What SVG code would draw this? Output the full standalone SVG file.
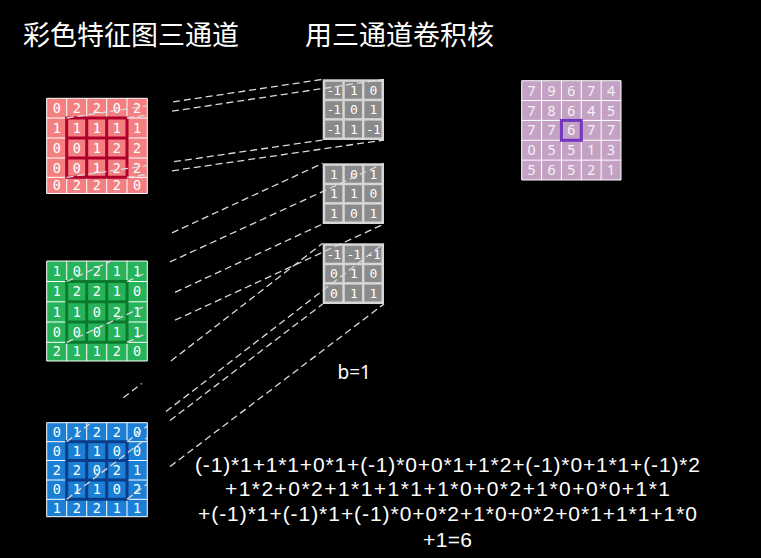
<svg xmlns="http://www.w3.org/2000/svg" width="761" height="558" viewBox="0 0 761 558">
<style>
.title{font-family:"Noto Sans CJK SC","Noto Sans",sans-serif;font-size:27px;fill:#ffffff}
.g{font-family:"DejaVu Sans Mono","Liberation Mono",monospace;font-size:13.5px;fill:#ffffff;text-anchor:middle}
.k{font-family:"DejaVu Sans Mono","Liberation Mono",monospace;font-size:13px;fill:#ffffff;text-anchor:middle;letter-spacing:-1px}
.o{font-family:"Noto Sans","Liberation Sans",sans-serif;font-size:14px;fill:#f4f4f4;text-anchor:middle}
.f{font-family:"Liberation Sans",Arial,sans-serif;font-size:21px;fill:#ffffff;text-anchor:middle}
.wl{fill:none;stroke:#ffffff;stroke-width:1}
.hl{fill:none;stroke-width:3}
.kb{fill:#d6d6d6}
.kc{fill:#8a8a8a}
.dash{fill:none;stroke:#dadada;stroke-width:1.3;stroke-dasharray:7 4}
</style>
<rect x="0" y="0" width="761" height="558" fill="#000000"/>

<g id="titles">
<text class="title" x="23" y="45">彩色特征图三通道</text>
<text class="title" x="305" y="45">用三通道卷积核</text>
</g>

<g id="red-channel">
<rect x="46.7" y="98.3" width="100.6" height="95.2" fill="#f47f80"/>
<path class="wl" d="M46.7,98.3V193.5M66.7,98.3V193.5M86.7,98.3V193.5M106.7,98.3V193.5M127,98.3V193.5M147.3,98.3V193.5M46.7,98.3H147.3M46.7,118H147.3M46.7,138H147.3M46.7,158H147.3M46.7,177.3H147.3M46.7,193.5H147.3"/>
<path class="hl" stroke="#b0002c" d="M66.7,118H127V177.3H66.7ZM86.7,118V177.3M106.7,118V177.3M66.7,138H127M66.7,158H127"/>
<g>
<text class="g" x="56.7" y="113">0</text><text class="g" x="76.7" y="113">2</text><text class="g" x="96.7" y="113">2</text><text class="g" x="116.85" y="113">0</text><text class="g" x="137.15" y="113">2</text>
<text class="g" x="56.7" y="132.8">1</text><text class="g" x="76.7" y="132.8">1</text><text class="g" x="96.7" y="132.8">1</text><text class="g" x="116.85" y="132.8">1</text><text class="g" x="137.15" y="132.8">1</text>
<text class="g" x="56.7" y="152.8">0</text><text class="g" x="76.7" y="152.8">0</text><text class="g" x="96.7" y="152.8">1</text><text class="g" x="116.85" y="152.8">2</text><text class="g" x="137.15" y="152.8">2</text>
<text class="g" x="56.7" y="172.5">0</text><text class="g" x="76.7" y="172.5">0</text><text class="g" x="96.7" y="172.5">1</text><text class="g" x="116.85" y="172.5">2</text><text class="g" x="137.15" y="172.5">2</text>
<text class="g" x="56.7" y="190.2">0</text><text class="g" x="76.7" y="190.2">2</text><text class="g" x="96.7" y="190.2">2</text><text class="g" x="116.85" y="190.2">2</text><text class="g" x="137.15" y="190.2">0</text>
</g>
</g>

<g id="green-channel">
<rect x="46.7" y="261" width="100.6" height="100" fill="#27b35a"/>
<path class="wl" d="M46.7,261V361M66.7,261V361M86.7,261V361M106.7,261V361M127,261V361M147.3,261V361M46.7,261H147.3M46.7,281.5H147.3M46.7,301.8H147.3M46.7,322H147.3M46.7,342.3H147.3M46.7,361H147.3"/>
<path class="hl" stroke="#0c7a2c" d="M66.7,281.5H127V342.3H66.7ZM86.7,281.5V342.3M106.7,281.5V342.3M66.7,301.8H127M66.7,322H127"/>
<g>
<text class="g" x="56.7" y="276">1</text><text class="g" x="76.7" y="276">0</text><text class="g" x="96.7" y="276">2</text><text class="g" x="116.85" y="276">1</text><text class="g" x="137.15" y="276">1</text>
<text class="g" x="56.7" y="296.4">1</text><text class="g" x="76.7" y="296.4">2</text><text class="g" x="96.7" y="296.4">2</text><text class="g" x="116.85" y="296.4">1</text><text class="g" x="137.15" y="296.4">0</text>
<text class="g" x="56.7" y="316.7">1</text><text class="g" x="76.7" y="316.7">1</text><text class="g" x="96.7" y="316.7">0</text><text class="g" x="116.85" y="316.7">2</text><text class="g" x="137.15" y="316.7">1</text>
<text class="g" x="56.7" y="336.9">0</text><text class="g" x="76.7" y="336.9">0</text><text class="g" x="96.7" y="336.9">0</text><text class="g" x="116.85" y="336.9">1</text><text class="g" x="137.15" y="336.9">1</text>
<text class="g" x="56.7" y="356.4">2</text><text class="g" x="76.7" y="356.4">1</text><text class="g" x="96.7" y="356.4">1</text><text class="g" x="116.85" y="356.4">2</text><text class="g" x="137.15" y="356.4">0</text>
</g>
</g>

<g id="blue-channel">
<rect x="46.7" y="422.7" width="100.6" height="94" fill="#1c7fd6"/>
<path class="wl" d="M46.7,422.7V516.7M66.7,422.7V516.7M86.7,422.7V516.7M106.7,422.7V516.7M127,422.7V516.7M147.3,422.7V516.7M46.7,422.7H147.3M46.7,441.7H147.3M46.7,460.5H147.3M46.7,480H147.3M46.7,499.3H147.3M46.7,516.7H147.3"/>
<path class="hl" stroke="#0a3c8a" d="M66.7,441.7H127V499.3H66.7ZM86.7,441.7V499.3M106.7,441.7V499.3M66.7,460.5H127M66.7,480H127"/>
<g>
<text class="g" x="56.7" y="437">0</text><text class="g" x="76.7" y="437">1</text><text class="g" x="96.7" y="437">2</text><text class="g" x="116.85" y="437">2</text><text class="g" x="137.15" y="437">0</text>
<text class="g" x="56.7" y="455.9">0</text><text class="g" x="76.7" y="455.9">1</text><text class="g" x="96.7" y="455.9">1</text><text class="g" x="116.85" y="455.9">0</text><text class="g" x="137.15" y="455.9">0</text>
<text class="g" x="56.7" y="475">2</text><text class="g" x="76.7" y="475">2</text><text class="g" x="96.7" y="475">0</text><text class="g" x="116.85" y="475">2</text><text class="g" x="137.15" y="475">1</text>
<text class="g" x="56.7" y="494.4">0</text><text class="g" x="76.7" y="494.4">1</text><text class="g" x="96.7" y="494.4">1</text><text class="g" x="116.85" y="494.4">0</text><text class="g" x="137.15" y="494.4">2</text>
<text class="g" x="56.7" y="512.8">1</text><text class="g" x="76.7" y="512.8">2</text><text class="g" x="96.7" y="512.8">2</text><text class="g" x="116.85" y="512.8">1</text><text class="g" x="137.15" y="512.8">1</text>
</g>
</g>

<g id="kernel-1">
<rect class="kb" x="322.7" y="79.3" width="61.3" height="60.7"/>
<rect class="kc" x="325.2" y="81.8" width="17.1" height="16.9"/><rect class="kc" x="344.8" y="81.8" width="17.1" height="16.9"/><rect class="kc" x="364.4" y="81.8" width="17.1" height="16.9"/>
<rect class="kc" x="325.2" y="101.2" width="17.1" height="16.9"/><rect class="kc" x="344.8" y="101.2" width="17.1" height="16.9"/><rect class="kc" x="364.4" y="101.2" width="17.1" height="16.9"/>
<rect class="kc" x="325.2" y="120.6" width="17.1" height="16.9"/><rect class="kc" x="344.8" y="120.6" width="17.1" height="16.9"/><rect class="kc" x="364.4" y="120.6" width="17.1" height="16.9"/>
<text class="k" x="333.3" y="95">-1</text><text class="k" x="353.3" y="95">1</text><text class="k" x="372.9" y="95">0</text>
<text class="k" x="333.3" y="114.4">-1</text><text class="k" x="353.3" y="114.4">0</text><text class="k" x="372.9" y="114.4">1</text>
<text class="k" x="333.3" y="133.8">-1</text><text class="k" x="353.3" y="133.8">1</text><text class="k" x="372.9" y="133.8">-1</text>
</g>

<g id="kernel-2">
<rect class="kb" x="322.7" y="163.3" width="61.3" height="60.7"/>
<rect class="kc" x="325.2" y="165.8" width="17.1" height="16.9"/><rect class="kc" x="344.8" y="165.8" width="17.1" height="16.9"/><rect class="kc" x="364.4" y="165.8" width="17.1" height="16.9"/>
<rect class="kc" x="325.2" y="185.2" width="17.1" height="16.9"/><rect class="kc" x="344.8" y="185.2" width="17.1" height="16.9"/><rect class="kc" x="364.4" y="185.2" width="17.1" height="16.9"/>
<rect class="kc" x="325.2" y="204.6" width="17.1" height="16.9"/><rect class="kc" x="344.8" y="204.6" width="17.1" height="16.9"/><rect class="kc" x="364.4" y="204.6" width="17.1" height="16.9"/>
<text class="k" x="333.3" y="179">1</text><text class="k" x="353.3" y="179">0</text><text class="k" x="372.9" y="179">1</text>
<text class="k" x="333.3" y="198.4">1</text><text class="k" x="353.3" y="198.4">1</text><text class="k" x="372.9" y="198.4">0</text>
<text class="k" x="333.3" y="217.8">1</text><text class="k" x="353.3" y="217.8">0</text><text class="k" x="372.9" y="217.8">1</text>
</g>

<g id="kernel-3">
<rect class="kb" x="322.7" y="243.3" width="61.3" height="60.7"/>
<rect class="kc" x="325.2" y="245.8" width="17.1" height="16.9"/><rect class="kc" x="344.8" y="245.8" width="17.1" height="16.9"/><rect class="kc" x="364.4" y="245.8" width="17.1" height="16.9"/>
<rect class="kc" x="325.2" y="265.2" width="17.1" height="16.9"/><rect class="kc" x="344.8" y="265.2" width="17.1" height="16.9"/><rect class="kc" x="364.4" y="265.2" width="17.1" height="16.9"/>
<rect class="kc" x="325.2" y="284.6" width="17.1" height="16.9"/><rect class="kc" x="344.8" y="284.6" width="17.1" height="16.9"/><rect class="kc" x="364.4" y="284.6" width="17.1" height="16.9"/>
<text class="k" x="333.3" y="259">-1</text><text class="k" x="353.3" y="259">-1</text><text class="k" x="372.9" y="259">-1</text>
<text class="k" x="333.3" y="278.4">0</text><text class="k" x="353.3" y="278.4">1</text><text class="k" x="372.9" y="278.4">0</text>
<text class="k" x="333.3" y="297.8">0</text><text class="k" x="353.3" y="297.8">1</text><text class="k" x="372.9" y="297.8">1</text>
</g>

<g id="output-map">
<rect x="521.7" y="80.7" width="99.3" height="99.3" fill="#c4a2c4"/>
<path class="wl" d="M521.7,80.7V180M541.56,80.7V180M561.42,80.7V180M581.28,80.7V180M601.14,80.7V180M621,80.7V180M521.7,80.7H621M521.7,100.56H621M521.7,120.42H621M521.7,140.28H621M521.7,160.14H621M521.7,180H621"/>
<rect x="561.4" y="120.4" width="19.9" height="19.9" fill="none" stroke="#7436c0" stroke-width="3"/>
<text class="o" x="531.63" y="95.6">7</text><text class="o" x="551.49" y="95.6">9</text><text class="o" x="571.35" y="95.6">6</text><text class="o" x="591.21" y="95.6">7</text><text class="o" x="611.07" y="95.6">4</text>
<text class="o" x="531.63" y="115.5">7</text><text class="o" x="551.49" y="115.5">8</text><text class="o" x="571.35" y="115.5">6</text><text class="o" x="591.21" y="115.5">4</text><text class="o" x="611.07" y="115.5">5</text>
<text class="o" x="531.63" y="135.3">7</text><text class="o" x="551.49" y="135.3">7</text><text class="o" x="571.35" y="135.3">6</text><text class="o" x="591.21" y="135.3">7</text><text class="o" x="611.07" y="135.3">7</text>
<text class="o" x="531.63" y="155.2">0</text><text class="o" x="551.49" y="155.2">5</text><text class="o" x="571.35" y="155.2">5</text><text class="o" x="591.21" y="155.2">1</text><text class="o" x="611.07" y="155.2">3</text>
<text class="o" x="531.63" y="175">5</text><text class="o" x="551.49" y="175">6</text><text class="o" x="571.35" y="175">5</text><text class="o" x="591.21" y="175">2</text><text class="o" x="611.07" y="175">1</text>
</g>

<g id="connectors">
<path class="dash" d="M66.7,118L147.3,105.8M173,101.9L322.7,79.3"/>
<path class="dash" d="M127,118L147.3,114.9M172,111.2L384,79.3"/>
<path class="dash" d="M66.7,177.3L147.3,165.6M174,161.7L322.7,140"/>
<path class="dash" d="M127,177.3L147.3,174.4M172,170.8L384,140"/>
<path class="dash" d="M66.7,281.5L111.1,261M172,232.9L322.7,163.3"/>
<path class="dash" d="M127,281.5L147.3,272.2M170,261.9L384,163.3"/>
<path class="dash" d="M66.7,342.3L147.3,305.1M175,292.3L322.7,224"/>
<path class="dash" d="M127,342.3L147.3,333M175,320.2L384,224"/>
<path class="dash" d="M66.7,441.7L91.2,422.7M123.3,397.8L141.7,383.6M171,360.9L322.7,243.3"/>
<path class="dash" d="M127,441.7L147.3,426M166,411.6L384,243.3"/>
<path class="dash" d="M66.7,499.3L147.3,437.8M170,420.5L322.7,304"/>
<path class="dash" d="M127,499.3L147.3,483.9M170,466.6L384,304"/>
</g>

<g id="bias">
<text x="337.5" y="379.3" font-family="Noto Sans, Liberation Sans, sans-serif" font-size="19" fill="#ffffff">b=1</text>
</g>

<g id="formula">
<text class="f" x="447.5" y="471.5" textLength="505" lengthAdjust="spacing">(-1)*1+1*1+0*1+(-1)*0+0*1+1*2+(-1)*0+1*1+(-1)*2</text>
<text class="f" x="447.5" y="496" textLength="445" lengthAdjust="spacing">+1*2+0*2+1*1+1*1+1*0+0*2+1*0+0*0+1*1</text>
<text class="f" x="447.5" y="521" textLength="499" lengthAdjust="spacing">+(-1)*1+(-1)*1+(-1)*0+0*2+1*0+0*2+0*1+1*1+1*0</text>
<text class="f" x="447.5" y="546.5" textLength="49" lengthAdjust="spacing">+1=6</text>
</g>
</svg>
